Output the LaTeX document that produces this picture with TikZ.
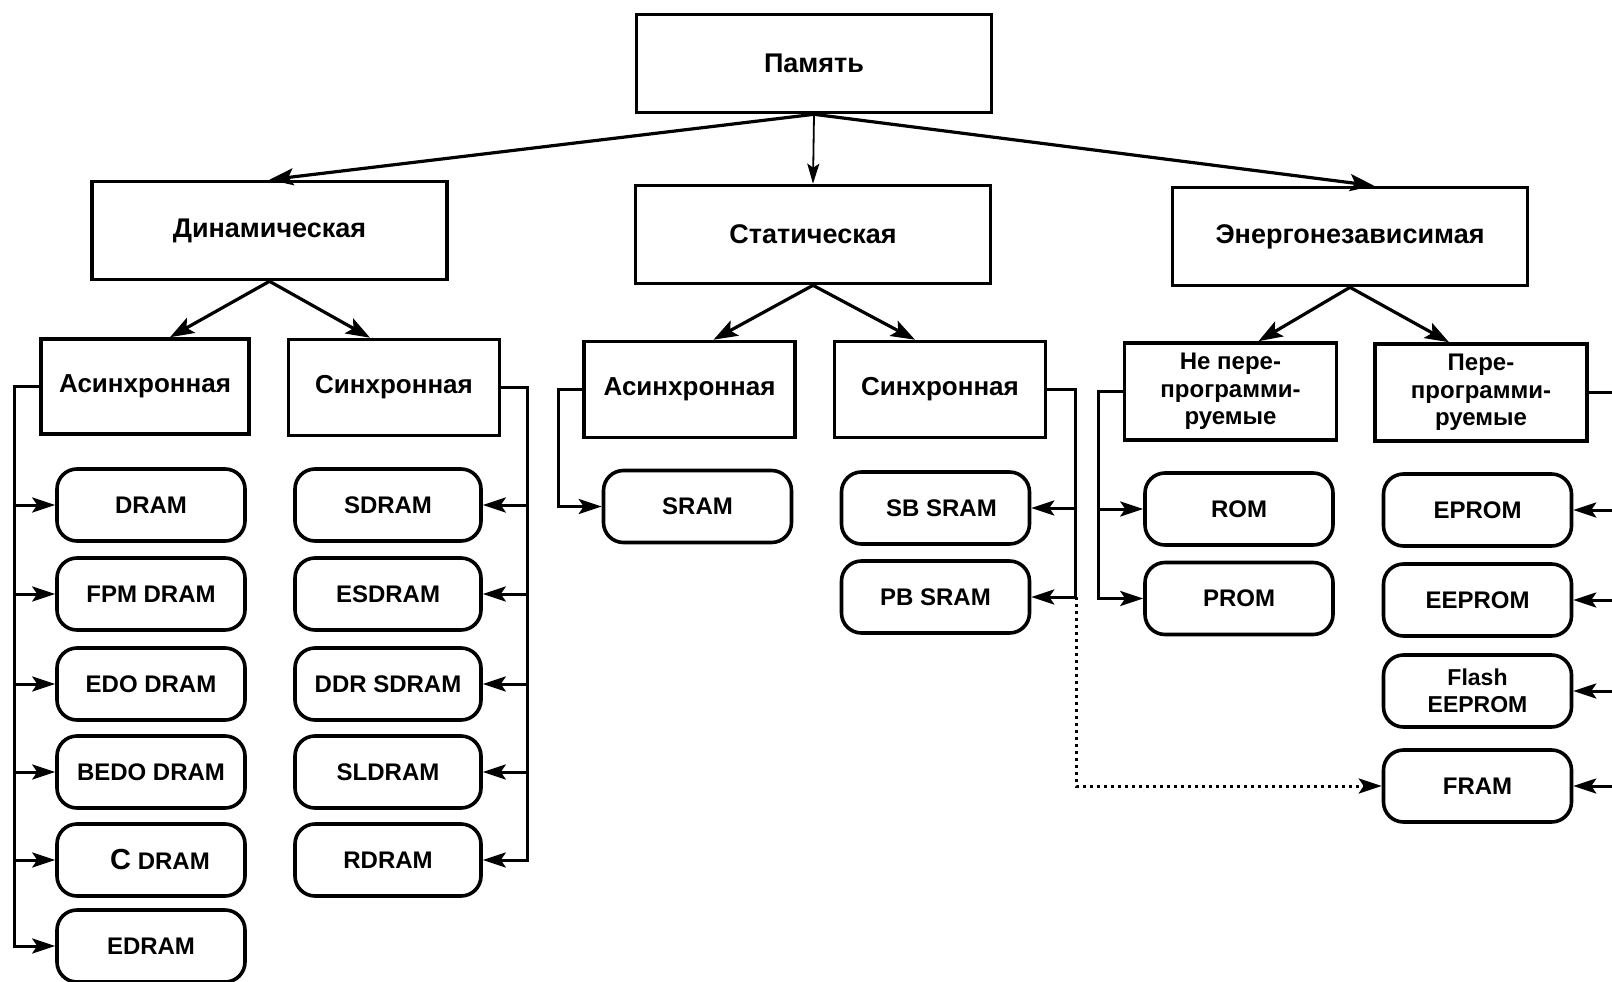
\documentclass[tikz,border=0pt]{standalone}
\usepackage{fontspec}
\setmainfont{Liberation Sans}
\usetikzlibrary{arrows.meta}
\begin{document}
\begin{tikzpicture}[x=1pt,y=-1pt,
  rect/.style={draw, line width=3.6pt, inner sep=0pt, align=center},
  top/.style={rect, minimum width=355pt, minimum height=98pt, font=\bfseries\fontsize{27}{30}\selectfont},
  mid/.style={rect, minimum width=211pt, minimum height=96pt, font=\bfseries\fontsize{26}{29}\selectfont},
  midml/.style={rect, minimum width=212pt, minimum height=97pt, font=\bfseries\fontsize{24}{27.5}\selectfont},
  leaf/.style={draw, line width=3.6pt, rounded corners=20pt, minimum width=188pt, minimum height=72pt, inner sep=0pt, align=center, font=\bfseries\fontsize{24}{26}\selectfont},
  thinarr/.style={line width=1.8pt, -{Stealth[length=20pt,width=12pt,inset=4pt]}},
  arr/.style={line width=3.2pt, -{Stealth[length=24pt,width=17pt,inset=5pt]}},
  busarr/.style={line width=3pt, -{Stealth[length=23pt,width=15pt,inset=5pt]}},
  dotarr/.style={line width=3pt, dash pattern=on 3pt off 4pt, -{Stealth[length=23pt,width=15pt,inset=5pt]}}
]
\useasboundingbox (0,0) rectangle (1612,982);

% level 0 and 1
\node[top] (mem) at (814,63.5) {Память};
\node[top] (dyn) at (269.5,230.5) {Динамическая};
\node[top] (stat) at (813,234.5) {Статическая};
\node[top] (en) at (1350,236.5) {Энергонезависимая};

% level 2
\node[mid, minimum width=208pt, minimum height=95pt] (ad) at (145,386.5) {Асинхронная};
\node[mid] (sd) at (394,387.5) {Синхронная};
\node[mid] (as) at (689.5,389.5) {Асинхронная};
\node[mid] (ss) at (940,389.5) {Синхронная};
\node[midml] (np) at (1230.5,391.5) {Не пере-\\программи-\\руемые};
\node[midml] (pp) at (1481,392.5) {Пере-\\программи-\\руемые};

% leaves: dynamic async
\node[leaf] (dram) at (151,505) {DRAM};
\node[leaf] (fpm) at (151,594) {FPM DRAM};
\node[leaf] (edo) at (151,684) {EDO DRAM};
\node[leaf] (bedo) at (151,772) {BEDO DRAM};
\node[leaf] (cdram) at (151,860) {\hspace*{18pt}{\fontsize{29}{29}\selectfont C} DRAM};
\node[leaf] (edram) at (151,946) {EDRAM};

% leaves: dynamic sync
\node[leaf, minimum width=186pt] (sdram) at (388,505) {SDRAM};
\node[leaf, minimum width=186pt] (esdram) at (388,594) {ESDRAM};
\node[leaf, minimum width=186pt] (ddr) at (388,684) {DDR SDRAM};
\node[leaf, minimum width=186pt] (sldram) at (388,772) {SLDRAM};
\node[leaf, minimum width=186pt] (rdram) at (388,860) {RDRAM};

% leaves: static
\node[leaf] (sram) at (697.5,506.5) {SRAM};
\node[leaf] (sbsram) at (935.5,508) {\hspace*{12pt}SB SRAM};
\node[leaf] (pbsram) at (935.5,597) {PB SRAM};

% leaves: non-volatile
\node[leaf] (rom) at (1239,509) {ROM};
\node[leaf] (prom) at (1239,598.5) {PROM};
\node[leaf] (eprom) at (1477.5,510) {EPROM};
\node[leaf] (eeprom) at (1477.5,600) {EEPROM};
\node[leaf, font=\bfseries\fontsize{23}{27}\selectfont] (flash) at (1477.5,691) {Flash\\EEPROM};
\node[leaf] (fram) at (1477.5,786) {FRAM};

% top arrows
\draw[arr] (mem.south) -- (dyn.north);
\draw[thinarr] (mem.south) -- (stat.north);
\draw[arr] (mem.south) -- ([xshift=24pt]en.north);

% level 1 -> 2
\draw[arr] (dyn.south) -- ([xshift=25pt]ad.north);
\draw[arr] (dyn.south) -- ([xshift=-24pt]sd.north);
\draw[arr] (stat.south) -- ([xshift=24pt]as.north);
\draw[arr] (stat.south) -- ([xshift=-25pt]ss.north);
\draw[arr] (en.south) -- ([xshift=28pt]np.north);
\draw[arr] (en.south) -- ([xshift=-32pt]pp.north);

% buses
\foreach \n in {dram,fpm,edo,bedo,cdram,edram}
  \draw[busarr] (ad.west) -- ++(-25,0) |- (\n.west);
\foreach \n in {sdram,esdram,ddr,sldram,rdram}
  \draw[busarr] (sd.east) -- ++(26,0) |- (\n.east);
\draw[busarr] (as.west) -- ++(-24,0) |- (sram.west);
\foreach \n in {sbsram,pbsram}
  \draw[busarr] (ss.east) -- ++(28,0) |- (\n.east);
\foreach \n in {rom,prom}
  \draw[busarr] (np.west) -- ++(-24,0) |- (\n.west);
\foreach \n in {eprom,eeprom,flash,fram}
  \draw[busarr] (pp.east) -- ++(60,0) |- (\n.east);

% dotted link
\draw[dotarr] ([xshift=45pt]pbsram.east) |- (fram.west);
\end{tikzpicture}
\end{document}
